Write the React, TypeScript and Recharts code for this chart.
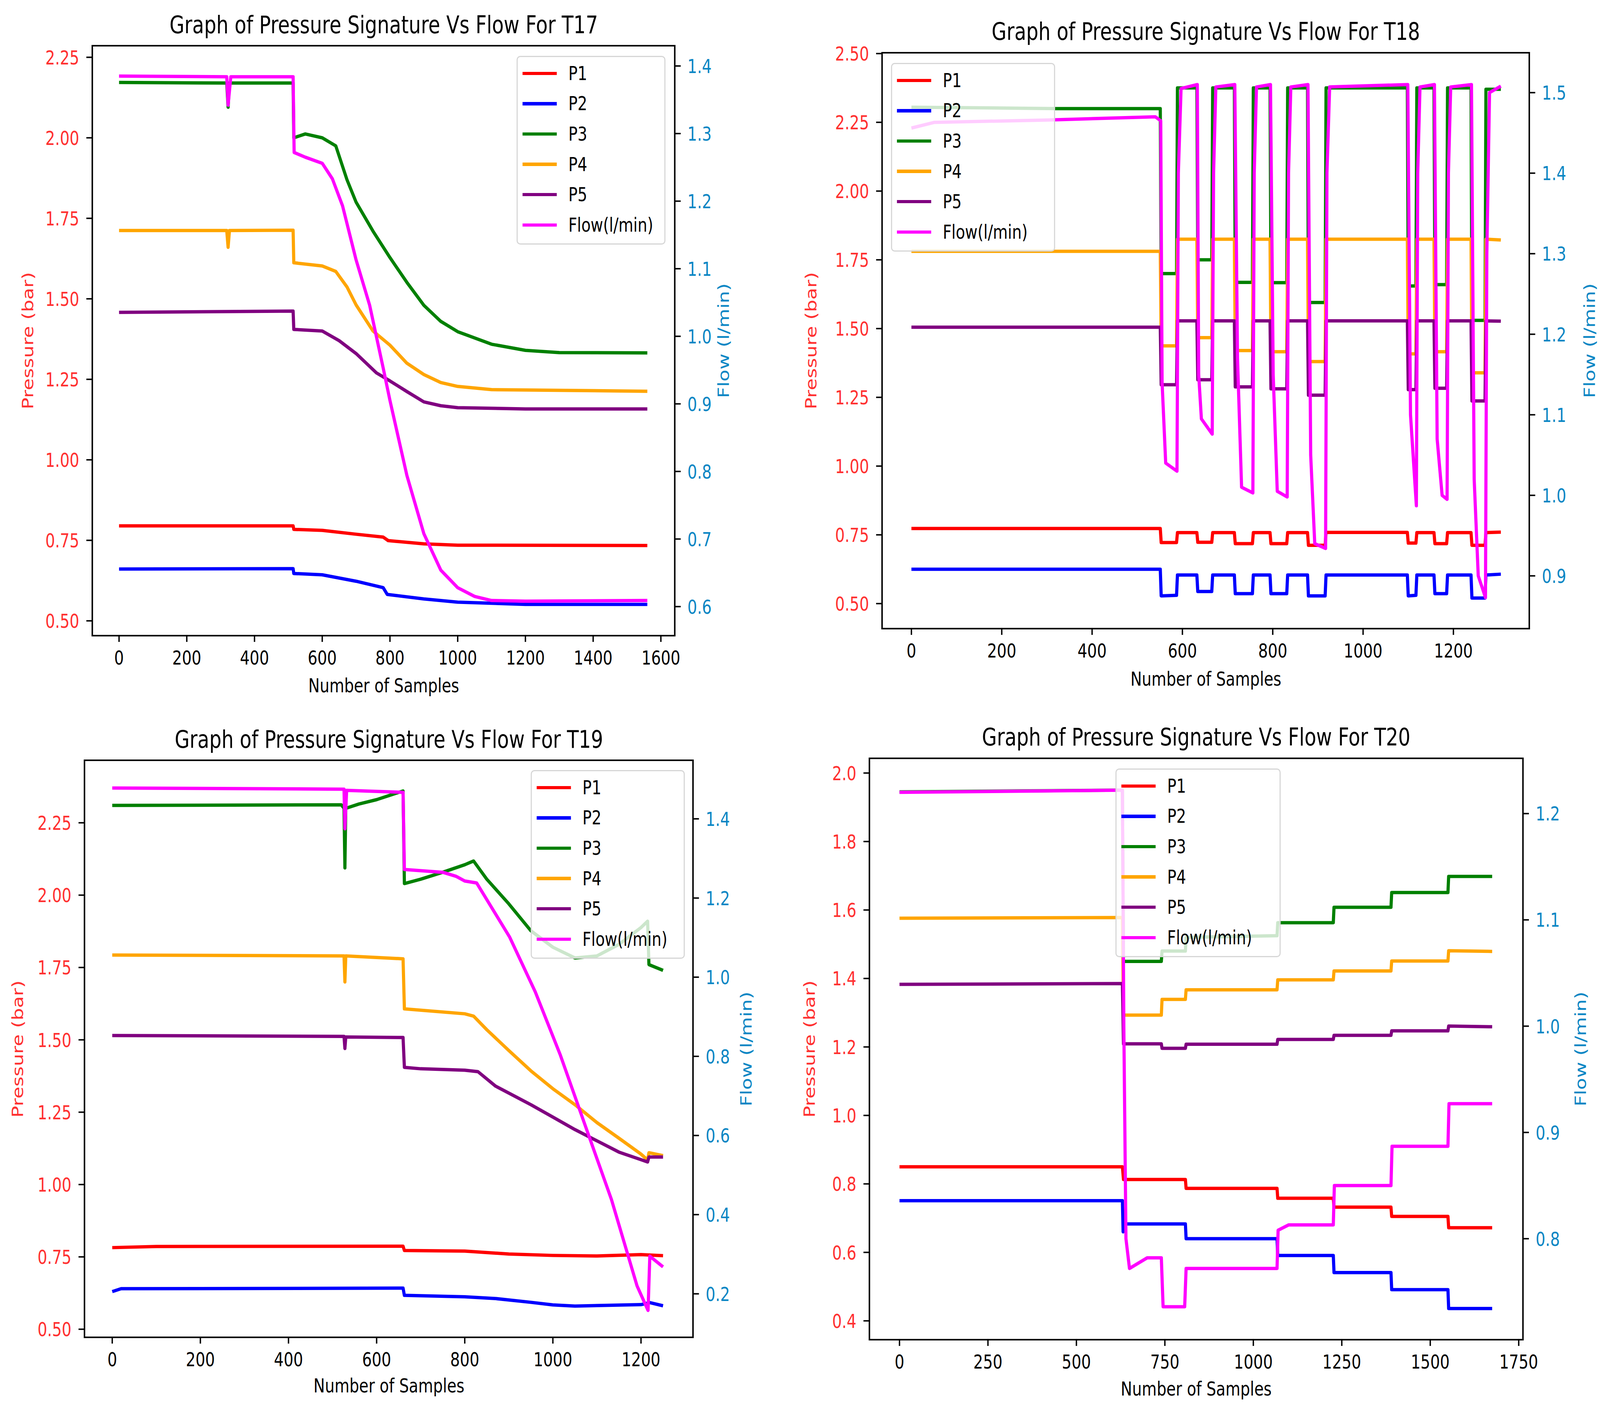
import React from "react"
import { LineChart, Line, XAxis, YAxis, Legend } from "recharts"

// ---------- data: [sample, value] ----------

const SERIES_NAMES = ["P1", "P2", "P3", "P4", "P5", "Flow(l/min)"]

// T17
const t17P1 = [[0, 0.795], [514, 0.795], [516, 0.784], [600, 0.781], [700, 0.769], [780, 0.76], [795, 0.749], [900, 0.739], [1000, 0.735], [1560, 0.734]]
const t17P2 = [[0, 0.661], [514, 0.662], [516, 0.647], [600, 0.643], [700, 0.623], [780, 0.603], [792, 0.582], [900, 0.568], [1000, 0.558], [1200, 0.551], [1560, 0.551]]
const t17P3 = [[0, 2.172], [318, 2.17], [322, 2.095], [326, 2.17], [514, 2.17], [516, 2.0], [550, 2.012], [600, 2.0], [640, 1.975], [673, 1.87], [700, 1.8], [750, 1.71], [800, 1.628], [850, 1.551], [900, 1.48], [950, 1.43], [1000, 1.398], [1100, 1.359], [1200, 1.34], [1300, 1.333], [1560, 1.332]]
const t17P4 = [[0, 1.712], [318, 1.712], [322, 1.66], [326, 1.712], [514, 1.713], [516, 1.612], [600, 1.602], [640, 1.585], [673, 1.537], [700, 1.481], [750, 1.4], [800, 1.356], [850, 1.3], [900, 1.265], [950, 1.24], [1000, 1.228], [1100, 1.218], [1560, 1.213]]
const t17P5 = [[0, 1.458], [514, 1.462], [516, 1.405], [600, 1.4], [650, 1.37], [700, 1.33], [760, 1.27], [800, 1.245], [850, 1.212], [900, 1.18], [950, 1.168], [1000, 1.162], [1200, 1.158], [1560, 1.158]]
const t17Flow = [[0, 1.385], [318, 1.384], [322, 1.342], [330, 1.384], [514, 1.384], [517, 1.272], [550, 1.265], [600, 1.256], [630, 1.233], [660, 1.193], [700, 1.113], [740, 1.046], [780, 0.953], [800, 0.905], [850, 0.794], [900, 0.708], [950, 0.654], [1000, 0.628], [1050, 0.615], [1100, 0.609], [1200, 0.608], [1560, 0.609]]

// T18
const t18P1 = [[0, 0.773], [551, 0.773], [553, 0.722], [587, 0.722], [589, 0.758], [632, 0.758], [634, 0.723], [665, 0.723], [667, 0.758], [715, 0.758], [717, 0.718], [755, 0.718], [757, 0.758], [794, 0.758], [796, 0.718], [831, 0.718], [833, 0.758], [877, 0.758], [879, 0.712], [916, 0.712], [918, 0.759], [1098, 0.759], [1100, 0.72], [1117, 0.72], [1119, 0.758], [1157, 0.758], [1159, 0.718], [1185, 0.718], [1187, 0.758], [1239, 0.758], [1241, 0.712], [1270, 0.712], [1272, 0.758], [1305, 0.76]]
const t18P2 = [[0, 0.625], [551, 0.625], [553, 0.528], [587, 0.53], [589, 0.604], [632, 0.604], [634, 0.544], [665, 0.544], [667, 0.604], [715, 0.604], [717, 0.536], [755, 0.536], [757, 0.604], [794, 0.604], [796, 0.536], [831, 0.536], [833, 0.604], [877, 0.604], [879, 0.528], [916, 0.528], [918, 0.604], [1098, 0.604], [1100, 0.528], [1117, 0.53], [1119, 0.604], [1157, 0.604], [1159, 0.536], [1185, 0.536], [1187, 0.604], [1239, 0.604], [1241, 0.52], [1270, 0.52], [1272, 0.604], [1305, 0.607]]
const t18P3 = [[0, 2.305], [320, 2.3], [551, 2.3], [553, 1.7], [587, 1.7], [589, 2.375], [632, 2.375], [634, 1.75], [665, 1.75], [667, 2.375], [715, 2.375], [717, 1.668], [755, 1.668], [757, 2.375], [794, 2.375], [796, 1.667], [831, 1.667], [833, 2.375], [877, 2.375], [879, 1.595], [916, 1.595], [918, 2.375], [1098, 2.375], [1100, 1.655], [1117, 1.655], [1119, 2.375], [1157, 2.375], [1159, 1.66], [1185, 1.66], [1187, 2.375], [1239, 2.375], [1241, 1.53], [1270, 1.53], [1272, 2.37], [1305, 2.37]]
const t18P4 = [[0, 1.781], [551, 1.781], [553, 1.437], [587, 1.437], [589, 1.825], [632, 1.825], [634, 1.467], [665, 1.467], [667, 1.825], [715, 1.825], [717, 1.42], [755, 1.42], [757, 1.825], [794, 1.825], [796, 1.416], [831, 1.416], [833, 1.825], [877, 1.825], [879, 1.38], [916, 1.38], [918, 1.825], [1098, 1.825], [1100, 1.408], [1117, 1.408], [1119, 1.825], [1157, 1.825], [1159, 1.416], [1185, 1.416], [1187, 1.825], [1239, 1.825], [1241, 1.339], [1270, 1.339], [1272, 1.825], [1305, 1.822]]
const t18P5 = [[0, 1.505], [551, 1.505], [553, 1.296], [587, 1.296], [589, 1.528], [632, 1.528], [634, 1.314], [665, 1.314], [667, 1.528], [715, 1.528], [717, 1.288], [755, 1.288], [757, 1.528], [794, 1.528], [796, 1.281], [831, 1.281], [833, 1.528], [877, 1.528], [879, 1.258], [916, 1.258], [918, 1.528], [1098, 1.528], [1100, 1.278], [1117, 1.278], [1119, 1.528], [1157, 1.528], [1159, 1.283], [1185, 1.283], [1187, 1.528], [1239, 1.528], [1241, 1.237], [1270, 1.237], [1272, 1.528], [1305, 1.527]]
const t18Flow = [
  [0, 1.456], [50, 1.463], [300, 1.466], [540, 1.47], [552, 1.465],
  [555, 1.14], [563, 1.04], [588, 1.03], [591, 1.4], [597, 1.505],
  [633, 1.51], [636, 1.15], [642, 1.095], [666, 1.076], [669, 1.4], [674, 1.507],
  [716, 1.51], [722, 1.17], [731, 1.01], [756, 1.003], [759, 1.4], [764, 1.507],
  [795, 1.51], [801, 1.15], [810, 1.005], [832, 0.998], [835, 1.4], [840, 1.507],
  [878, 1.51], [884, 1.05], [893, 0.94], [917, 0.934], [920, 1.4], [926, 1.507],
  [1099, 1.51], [1105, 1.1], [1118, 0.987], [1121, 1.4], [1126, 1.507],
  [1158, 1.51], [1164, 1.07], [1175, 1.0], [1186, 0.995], [1189, 1.4], [1194, 1.507],
  [1240, 1.51], [1246, 1.02], [1255, 0.9], [1271, 0.873], [1274, 1.3], [1280, 1.5], [1305, 1.508],
]

// T19
const t19P1 = [[0, 0.782], [100, 0.786], [660, 0.787], [663, 0.772], [800, 0.77], [900, 0.76], [1000, 0.755], [1100, 0.753], [1200, 0.758], [1250, 0.754]]
const t19P2 = [[0, 0.63], [20, 0.64], [660, 0.642], [663, 0.617], [800, 0.612], [870, 0.606], [950, 0.593], [1000, 0.584], [1050, 0.58], [1200, 0.585], [1220, 0.592], [1250, 0.581]]
const t19P3 = [[0, 2.31], [520, 2.312], [526, 2.3], [528, 2.094], [530, 2.3], [560, 2.315], [600, 2.33], [650, 2.355], [660, 2.36], [663, 2.04], [700, 2.055], [750, 2.079], [800, 2.105], [820, 2.118], [850, 2.055], [900, 1.97], [950, 1.877], [1000, 1.82], [1050, 1.783], [1100, 1.79], [1150, 1.83], [1200, 1.888], [1215, 1.91], [1218, 1.76], [1250, 1.74]]
const t19P4 = [[0, 1.793], [526, 1.79], [528, 1.7], [530, 1.79], [660, 1.78], [663, 1.607], [800, 1.59], [820, 1.582], [850, 1.535], [900, 1.463], [950, 1.393], [1000, 1.331], [1050, 1.276], [1100, 1.214], [1150, 1.16], [1200, 1.105], [1215, 1.085], [1218, 1.11], [1250, 1.1]]
const t19P5 = [[0, 1.515], [526, 1.512], [528, 1.47], [530, 1.51], [660, 1.508], [663, 1.405], [700, 1.4], [800, 1.395], [830, 1.39], [870, 1.34], [950, 1.276], [1000, 1.233], [1050, 1.19], [1100, 1.151], [1150, 1.112], [1200, 1.086], [1215, 1.078], [1218, 1.095], [1250, 1.095]]
const t19Flow = [[0, 1.478], [526, 1.475], [528, 1.375], [532, 1.472], [660, 1.467], [663, 1.272], [750, 1.265], [780, 1.255], [800, 1.243], [827, 1.238], [902, 1.101], [960, 0.963], [1017, 0.803], [1075, 0.62], [1133, 0.438], [1191, 0.22], [1216, 0.158], [1220, 0.295], [1250, 0.268]]

// T20
const t20P1 = [[0, 0.85], [630, 0.85], [633, 0.813], [808, 0.813], [810, 0.787], [1067, 0.787], [1069, 0.758], [1226, 0.758], [1228, 0.732], [1389, 0.732], [1391, 0.705], [1550, 0.705], [1552, 0.672], [1675, 0.672]]
const t20P2 = [[0, 0.751], [630, 0.751], [632, 0.66], [636, 0.683], [808, 0.683], [810, 0.64], [1067, 0.64], [1069, 0.591], [1226, 0.591], [1228, 0.541], [1389, 0.541], [1391, 0.491], [1550, 0.491], [1552, 0.436], [1675, 0.436]]
const t20P3 = [[0, 1.945], [630, 1.95], [633, 1.45], [740, 1.45], [742, 1.48], [808, 1.48], [810, 1.52], [1067, 1.525], [1069, 1.563], [1226, 1.563], [1228, 1.608], [1389, 1.608], [1391, 1.651], [1550, 1.651], [1552, 1.698], [1675, 1.698]]
const t20P4 = [[0, 1.576], [630, 1.578], [633, 1.293], [740, 1.293], [742, 1.339], [808, 1.339], [810, 1.367], [1067, 1.367], [1069, 1.396], [1226, 1.396], [1228, 1.422], [1389, 1.422], [1391, 1.451], [1550, 1.451], [1552, 1.481], [1675, 1.479]]
const t20P5 = [[0, 1.383], [630, 1.385], [633, 1.209], [740, 1.209], [742, 1.196], [808, 1.196], [810, 1.208], [1067, 1.208], [1069, 1.222], [1226, 1.222], [1228, 1.234], [1389, 1.234], [1391, 1.247], [1550, 1.247], [1552, 1.261], [1675, 1.259]]
const t20Flow = [[0, 1.22], [630, 1.222], [634, 1.0], [640, 0.8], [650, 0.772], [700, 0.782], [740, 0.782], [745, 0.736], [806, 0.736], [810, 0.772], [1067, 0.772], [1070, 0.808], [1100, 0.813], [1226, 0.813], [1229, 0.85], [1389, 0.85], [1392, 0.887], [1550, 0.887], [1553, 0.927], [1675, 0.927]]

// tick labels
const xTicks1600 = [0, 200, 400, 600, 800, 1000, 1200, 1400, 1600]
const xTicks1200 = [0, 200, 400, 600, 800, 1000, 1200]
const xTicks1750 = [0, 250, 500, 750, 1000, 1250, 1500, 1750]
const pTicks225 = [0.5, 0.75, 1.0, 1.25, 1.5, 1.75, 2.0, 2.25]
const pTicks250 = [0.5, 0.75, 1.0, 1.25, 1.5, 1.75, 2.0, 2.25, 2.5]
const pTicks20 = [0.4, 0.6, 0.8, 1.0, 1.2, 1.4, 1.6, 1.8, 2.0]
const fTicksT17 = [0.6, 0.7, 0.8, 0.9, 1.0, 1.1, 1.2, 1.3, 1.4]
const fTicksT18 = [0.9, 1.0, 1.1, 1.2, 1.3, 1.4, 1.5]
const fTicksT19 = [0.2, 0.4, 0.6, 0.8, 1.0, 1.2, 1.4]
const fTicksT20 = [0.8, 0.9, 1.0, 1.1, 1.2]

// ---------- styling ----------

const COLORS = ["#ff0000", "#0000ff", "#008000", "#ffa500", "#800080", "#ff00ff"]
const LEFT_COLOR = "#ff3030"
const RIGHT_COLOR = "#0a86c4"
const FONT = "'DejaVu Sans', sans-serif"
const SQUEEZE = 0.82 // the picture is narrower than it is tall
// the page viewport is 4096 css px wide and 3609 tall; the layout below is in picture pixels
const VIEW_W = 4096
const VIEW_H = 3609
const YW = 260
const XH = 170
const TM = 50
const LW = 8.5

const panels = [
  {
    title: "Graph of Pressure Signature Vs Flow For T17",
    box: { l: 248, r: 1813, t: 117, b: 1627 },
    titleY: 63, xLabelY: 1755, pressX: 75, flowX: 1945,
    legend: { left: 1388, top: 143, width: 400 },
    xDomain: [-79, 1641], pDomain: [0.454, 2.286], fDomain: [0.557, 1.43],
    xTicks: xTicks1600, pTicks: pTicks225, fTicks: fTicksT17, pDec: 2,
    series: [t17P1, t17P2, t17P3, t17P4, t17P5, t17Flow],
  },
  {
    title: "Graph of Pressure Signature Vs Flow For T18",
    box: { l: 2370, r: 4109, t: 135, b: 1609 },
    titleY: 80, xLabelY: 1738, pressX: 2180, flowX: 4271,
    legend: { left: 2394, top: 161, width: 441 },
    xDomain: [-65, 1368], pDomain: [0.409, 2.503], fDomain: [0.8345, 1.5495],
    xTicks: xTicks1200, pTicks: pTicks250, fTicks: fTicksT18, pDec: 2,
    series: [t18P1, t18P2, t18P3, t18P4, t18P5, t18Flow],
  },
  {
    title: "Graph of Pressure Signature Vs Flow For T19",
    box: { l: 227, r: 1862, t: 1946, b: 3423 },
    titleY: 1892, xLabelY: 3547, pressX: 48, flowX: 2005,
    legend: { left: 1426, top: 1971, width: 414 },
    xDomain: [-63, 1318], pDomain: [0.472, 2.466], fDomain: [0.09, 1.548],
    xTicks: xTicks1200, pTicks: pTicks225, fTicks: fTicksT19, pDec: 2,
    series: [t19P1, t19P2, t19P3, t19P4, t19P5, t19Flow],
  },
  {
    title: "Graph of Pressure Signature Vs Flow For T20",
    box: { l: 2336, r: 4092, t: 1941, b: 3429 },
    titleY: 1886, xLabelY: 3555, pressX: 2175, flowX: 4247,
    legend: { left: 2997, top: 1967, width: 444 },
    xDomain: [-85, 1762], pDomain: [0.345, 2.043], fDomain: [0.705, 1.252],
    xTicks: xTicks1750, pTicks: pTicks20, fTicks: fTicksT20, pDec: 1,
    series: [t20P1, t20P2, t20P3, t20P4, t20P5, t20Flow],
  },
]

const toPts = (arr: number[][]) => arr.map(([x, y]) => ({ x, y }))

const makeTick = (fmt: (v: number) => string, color: string, anchor: string, dy: string) => (props: any) => {
  const { x, y, payload } = props
  return (
    <g transform={`translate(${x},${y})`}>
      <text transform={`scale(${SQUEEZE},1)`} textAnchor={anchor} dy={dy} fill={color} fontSize={50} fontFamily={FONT}>
        {fmt(payload.value)}
      </text>
    </g>
  )
}

const LegendBox = ({ payload, width }: any) => {
  const items = [...(payload || [])].sort((a: any, b: any) => SERIES_NAMES.indexOf(a.value) - SERIES_NAMES.indexOf(b.value))
  return (
    <div
      style={{
        width, boxSizing: "border-box", background: "rgba(255,255,255,0.8)",
        border: "3px solid #d6d6d6", borderRadius: 10, padding: "3px 0 8px 0",
      }}
    >
      {items.map((e: any) => (
        <div key={e.value} style={{ display: "flex", alignItems: "center", height: 77.6 }}>
          <div style={{ marginLeft: 13, width: 92, height: LW, background: e.color, flex: "none" }} />
          <span
            style={{
              marginLeft: 31, fontFamily: FONT, fontSize: 50, lineHeight: 1, color: "#000",
              display: "inline-block", whiteSpace: "nowrap", transform: `scaleX(${SQUEEZE})`, transformOrigin: "left center",
            }}
          >
            {e.value}
          </span>
        </div>
      ))}
    </div>
  )
}

const textBase: React.CSSProperties = { position: "absolute", whiteSpace: "nowrap", fontFamily: FONT, lineHeight: 1 }

function Panel({ cfg }: { cfg: any }) {
  const { l, r, t, b } = cfg.box
  const chartLeft = l - YW
  const chartTop = t - TM
  const width = r - l + 2 * YW
  const height = b - t + XH + TM
  const cx = (l + r) / 2
  const cy = (t + b) / 2
  const tickLine = { stroke: "#000", strokeWidth: 3.7 }

  return (
    <>
      <div style={{ position: "absolute", left: chartLeft, top: chartTop }}>
        <LineChart width={width} height={height} margin={{ top: TM, right: 0, bottom: 0, left: 0 }}>
          <XAxis
            type="number" dataKey="x" domain={cfg.xDomain} ticks={cfg.xTicks} allowDataOverflow interval={0}
            height={XH} axisLine={false} tickLine={tickLine} tickSize={16} tickMargin={22}
            tick={makeTick((v) => String(v), "#000", "middle", "0.71em")}
          />
          <YAxis
            yAxisId="p" orientation="left" width={YW} domain={cfg.pDomain} ticks={cfg.pTicks} allowDataOverflow interval={0}
            axisLine={false} tickLine={tickLine} tickSize={16} tickMargin={19}
            tick={makeTick((v) => v.toFixed(cfg.pDec), LEFT_COLOR, "end", "0.36em")}
          />
          <YAxis
            yAxisId="f" orientation="right" width={YW} domain={cfg.fDomain} ticks={cfg.fTicks} allowDataOverflow interval={0}
            axisLine={false} tickLine={tickLine} tickSize={16} tickMargin={18}
            tick={makeTick((v) => v.toFixed(1), RIGHT_COLOR, "start", "0.36em")}
          />
          {cfg.series.map((s: number[][], i: number) => (
            <Line
              key={SERIES_NAMES[i]}
              data={toPts(s)}
              dataKey="y"
              name={SERIES_NAMES[i]}
              yAxisId={i < 5 ? "p" : "f"}
              type="linear"
              stroke={COLORS[i]}
              strokeWidth={LW}
              strokeLinejoin="round"
              dot={false}
              activeDot={false}
              isAnimationActive={false}
            />
          ))}
          <Legend
            layout="horizontal" verticalAlign="middle" align="center"
            wrapperStyle={{ left: cfg.legend.left - chartLeft, top: cfg.legend.top - chartTop, width: cfg.legend.width, height: "auto" }}
            content={(props: any) => <LegendBox {...props} width={cfg.legend.width} />}
          />
        </LineChart>
      </div>

      {/* axes frame */}
      <div
        style={{
          position: "absolute", left: l - 2, top: t - 2, width: r - l + 4, height: b - t + 4,
          boxSizing: "border-box", border: "4px solid #000", pointerEvents: "none",
        }}
      />

      <div style={{ ...textBase, left: cx, top: cfg.titleY, fontSize: 63, color: "#000", transform: `translate(-50%,-50%) scaleX(${SQUEEZE})` }}>
        {cfg.title}
      </div>
      <div style={{ ...textBase, left: cx, top: cfg.xLabelY, fontSize: 50, color: "#000", transform: `translate(-50%,-50%) scaleX(${SQUEEZE})` }}>
        Number of Samples
      </div>
      <div style={{ ...textBase, left: cfg.pressX, top: cy, fontSize: 50, color: LEFT_COLOR, transform: `translate(-50%,-50%) rotate(-90deg) scaleY(${SQUEEZE})` }}>
        Pressure (bar)
      </div>
      <div style={{ ...textBase, left: cfg.flowX, top: cy, fontSize: 50, color: RIGHT_COLOR, transform: `translate(-50%,-50%) rotate(-90deg) scaleY(${SQUEEZE})` }}>
        Flow (l/min)
      </div>
    </>
  )
}

export default function App() {
  return (
    <div style={{ position: "absolute", left: 0, top: 0, width: VIEW_W, height: VIEW_H, overflow: "hidden", background: "#fff" }}>
      <div
        style={{
          position: "relative", width: 4299, height: 3609,
          transform: `scale(${VIEW_W / 4299}, ${VIEW_H / 3609})`, transformOrigin: "0 0",
        }}
      >
        {panels.map((p) => (
          <Panel key={p.title} cfg={p} />
        ))}
      </div>
    </div>
  )
}
